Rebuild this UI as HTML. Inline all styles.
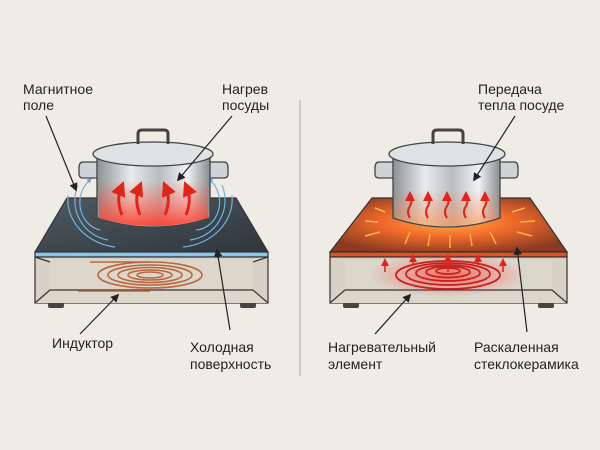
<!DOCTYPE html>
<html><head><meta charset="utf-8"><style>
html,body{margin:0;padding:0;background:#efece6;}
svg{display:block}
text{font-family:"Liberation Sans",sans-serif;font-size:14px;fill:#222;}
</style></head><body>
<svg width="600" height="450" viewBox="0 0 600 450">
<defs>
<linearGradient id="steel" x1="0" x2="1"><stop offset="0" stop-color="#8d9194"/><stop offset=".3" stop-color="#e9ebec"/><stop offset=".55" stop-color="#b9bdc0"/><stop offset=".8" stop-color="#f0f1f2"/><stop offset="1" stop-color="#8a8e91"/></linearGradient>
<linearGradient id="heatL" x1="0" y1="0" x2="0" y2="1"><stop offset="0" stop-color="#ff5040" stop-opacity="0"/><stop offset="1" stop-color="#ff3a2a" stop-opacity=".9"/></linearGradient>
<linearGradient id="heatR" x1="0" y1="0" x2="0" y2="1"><stop offset="0" stop-color="#ff7040" stop-opacity="0"/><stop offset="1" stop-color="#ff8a40" stop-opacity=".6"/></linearGradient>
<linearGradient id="glass" x1="0" y1="0" x2="1" y2="1"><stop offset="0" stop-color="#505a62"/><stop offset="1" stop-color="#2f363c"/></linearGradient>
<radialGradient id="hot" cx=".5" cy=".45" r=".6"><stop offset="0" stop-color="#ffb040"/><stop offset=".45" stop-color="#f06a2a"/><stop offset="1" stop-color="#8a3a22"/></radialGradient>
<radialGradient id="glow" cx=".5" cy=".5" r=".5"><stop offset="0" stop-color="#ff3030" stop-opacity=".6"/><stop offset="1" stop-color="#ff3030" stop-opacity="0"/></radialGradient>
<marker id="ah" viewBox="0 0 10 10" refX="8" refY="5" markerWidth="7" markerHeight="7" orient="auto"><path d="M0,0L10,5L0,10z" fill="#222"/></marker>
<marker id="ra" viewBox="0 0 10 10" refX="5" refY="5" markerWidth="5" markerHeight="5" orient="auto"><path d="M0,0L10,5L0,10z" fill="#e2231a"/></marker>
<marker id="rup" viewBox="0 0 10 10" refX="5" refY="5" markerWidth="5" markerHeight="5" orient="270"><path d="M0,0L10,5L0,10z" fill="#e2231a"/></marker>
<marker id="ba" viewBox="0 0 10 10" refX="5" refY="5" markerWidth="4" markerHeight="4" orient="auto"><path d="M0,0L10,5L0,10z" fill="#5aa8dc"/></marker>
</defs>

<line x1="300" y1="100" x2="300" y2="376" stroke="#b8b4ad" stroke-width="1.2"/>

<!-- LEFT STOVE -->
<g stroke="#333" stroke-width="1.2">
<polygon points="67,198 236,198 268,252 35,252" fill="url(#glass)"/>
<rect x="35" y="252" width="233" height="5" fill="#8cc6e8"/>
<rect x="35" y="257" width="233" height="46" fill="#d8d1c6"/>
<polygon points="50,260 253,260 253,290 268,303 35,303 50,290" fill="#ddd6cb" stroke="none"/>
<line x1="35" y1="257" x2="50" y2="262"/><line x1="268" y1="257" x2="253" y2="262"/>
<line x1="35" y1="303" x2="50" y2="290"/><line x1="268" y1="303" x2="253" y2="290"/>
<line x1="50" y1="290" x2="253" y2="290"/>
</g>
<rect x="48" y="303" width="16" height="5" rx="2" fill="#444"/><rect x="240" y="303" width="16" height="5" rx="2" fill="#444"/>
<g fill="none" stroke="#b8673e" stroke-width="1.6">
<ellipse cx="150" cy="275" rx="52" ry="13"/><ellipse cx="150" cy="275" rx="42" ry="10"/><ellipse cx="150" cy="275" rx="32" ry="7.5"/><ellipse cx="150" cy="275" rx="22" ry="5"/><ellipse cx="150" cy="275" rx="13" ry="3"/>
<line x1="90" y1="262" x2="150" y2="262"/><line x1="78" y1="291" x2="150" y2="291"/>
</g>
<g fill="none" stroke="#6fb4e0" stroke-width="1.2">
<path d="M100,230 A25,28 0 0 1 90,180" marker-end="url(#ba)"/><path d="M108,240 A40,40 0 0 1 78,185"/><path d="M115,247 A55,48 0 0 1 68,195"/>
<path d="M196,230 A25,28 0 0 0 210,180" marker-end="url(#ba)"/><path d="M190,240 A40,40 0 0 0 222,185"/><path d="M183,247 A55,48 0 0 0 232,195"/>
</g>
<!-- left pot -->
<g stroke="#444" stroke-width="1.3">
<path d="M97,162 h-14 q-4,0 -4,6 v6 q0,4 4,4 h14" fill="#cfd3d6"/>
<path d="M210,162 h14 q4,0 4,6 v6 q0,4 -4,4 h-14" fill="#cfd3d6"/>
<path d="M97,155 V218 Q153,236 210,218 V155 Z" fill="url(#steel)"/>
<path d="M99,180 V218 Q153,234 208,218 V180 Z" fill="url(#heatL)" stroke="none"/>
<ellipse cx="153" cy="154" rx="60" ry="12" fill="#dfe2e4"/>
<path d="M138,144 v-10 q0,-4 4,-4 h22 q4,0 4,4 v10" fill="none" stroke-width="3"/>
</g>
<g fill="none" stroke="#e2231a" stroke-width="3">
<path d="M122,215 Q116,200 121,188" marker-end="url(#ra)"/><path d="M140,215 Q134,200 139,188" marker-end="url(#ra)"/>
<path d="M165,215 Q171,200 166,188" marker-end="url(#ra)"/><path d="M186,215 Q192,200 187,188" marker-end="url(#ra)"/>
</g>

<!-- RIGHT STOVE -->
<g stroke="#333" stroke-width="1.2">
<polygon points="372,198 530,198 567,252 330,252" fill="url(#hot)"/>
<rect x="330" y="252" width="237" height="5" fill="#e0521e"/>
<rect x="330" y="257" width="237" height="46" fill="#d8d1c6"/>
<polygon points="345,260 552,260 552,290 567,303 330,303 345,290" fill="#ddd6cb" stroke="none"/>
<line x1="330" y1="303" x2="345" y2="290"/><line x1="567" y1="303" x2="552" y2="290"/>
<line x1="345" y1="290" x2="552" y2="290"/>
</g>
<rect x="343" y="303" width="16" height="5" rx="2" fill="#444"/><rect x="538" y="303" width="16" height="5" rx="2" fill="#444"/>
<g stroke="#ffb347" stroke-width="1.5">
<line x1="378" y1="222" x2="365" y2="221"/><line x1="380" y1="232" x2="365" y2="236"/><line x1="385" y1="212" x2="375" y2="208"/><line x1="520" y1="222" x2="535" y2="221"/><line x1="517" y1="232" x2="532" y2="236"/><line x1="512" y1="212" x2="525" y2="208"/>
<line x1="410" y1="232" x2="405" y2="244"/><line x1="430" y1="234" x2="428" y2="246"/><line x1="450" y1="235" x2="450" y2="248"/><line x1="470" y1="234" x2="472" y2="246"/><line x1="490" y1="232" x2="496" y2="244"/>
</g>
<ellipse cx="448" cy="275" rx="80" ry="22" fill="url(#glow)"/>
<g fill="none" stroke="#c8201a" stroke-width="1.8">
<ellipse cx="448" cy="275" rx="52" ry="14"/><ellipse cx="448" cy="274" rx="42" ry="11"/><ellipse cx="448" cy="273" rx="32" ry="8"/><ellipse cx="448" cy="272" rx="22" ry="5.5"/><ellipse cx="448" cy="271" rx="12" ry="3"/>
</g>
<g stroke="#e2231a" stroke-width="1.6" fill="none">
<line x1="385" y1="272" x2="385" y2="262" marker-end="url(#ra)"/><line x1="413" y1="265" x2="413" y2="258" marker-end="url(#ra)"/><line x1="448" y1="272" x2="448" y2="258" marker-end="url(#ra)"/><line x1="478" y1="265" x2="478" y2="258" marker-end="url(#ra)"/><line x1="503" y1="272" x2="503" y2="262" marker-end="url(#ra)"/>
</g>
<!-- right pot -->
<g stroke="#444" stroke-width="1.3">
<path d="M393,162 h-14 q-4,0 -4,6 v6 q0,4 4,4 h14" fill="#cfd3d6"/>
<path d="M500,162 h14 q4,0 4,6 v6 q0,4 -4,4 h-14" fill="#cfd3d6"/>
<path d="M393,155 V218 Q447,236 500,218 V155 Z" fill="url(#steel)"/>
<path d="M395,190 V218 Q447,234 498,218 V190 Z" fill="url(#heatR)" stroke="none"/>
<ellipse cx="447" cy="154" rx="58" ry="12" fill="#dfe2e4"/>
<path d="M433,144 v-10 q0,-4 4,-4 h22 q4,0 4,4 v10" fill="none" stroke-width="3"/>
</g>
<g fill="none" stroke="#e2231a" stroke-width="2">
<path d="M410,218 q-4,-6 0,-12 q3,-5 0,-10" marker-end="url(#rup)"/><path d="M428,218 q-4,-6 0,-12 q3,-5 0,-10" marker-end="url(#rup)"/><path d="M447,218 q-4,-6 0,-12 q3,-5 0,-10" marker-end="url(#rup)"/><path d="M466,218 q-4,-6 0,-12 q3,-5 0,-10" marker-end="url(#rup)"/><path d="M485,218 q-4,-6 0,-12 q3,-5 0,-10" marker-end="url(#rup)"/>
</g>

<!-- leaders -->
<g stroke="#222" stroke-width="1.2" fill="none" marker-end="url(#ah)">
<line x1="46" y1="116" x2="76" y2="190"/>
<line x1="232" y1="116" x2="178" y2="180"/>
<line x1="80" y1="334" x2="118" y2="295"/>
<line x1="230" y1="330" x2="217" y2="250"/>
<line x1="515" y1="116" x2="474" y2="180"/>
<line x1="375" y1="334" x2="410" y2="295"/>
<line x1="527" y1="332" x2="517" y2="248"/>
</g>

<text x="23" y="94">Магнитное</text><text x="23" y="110">поле</text>
<text x="222" y="94">Нагрев</text><text x="222" y="110">посуды</text>
<text x="478" y="94">Передача</text><text x="478" y="110">тепла посуде</text>
<text x="52" y="348">Индуктор</text>
<text x="190" y="352">Холодная</text><text x="190" y="369">поверхность</text>
<text x="328" y="352">Нагревательный</text><text x="328" y="369">элемент</text>
<text x="474" y="352">Раскаленная</text><text x="474" y="369">стеклокерамика</text>
</svg>
</body></html>
